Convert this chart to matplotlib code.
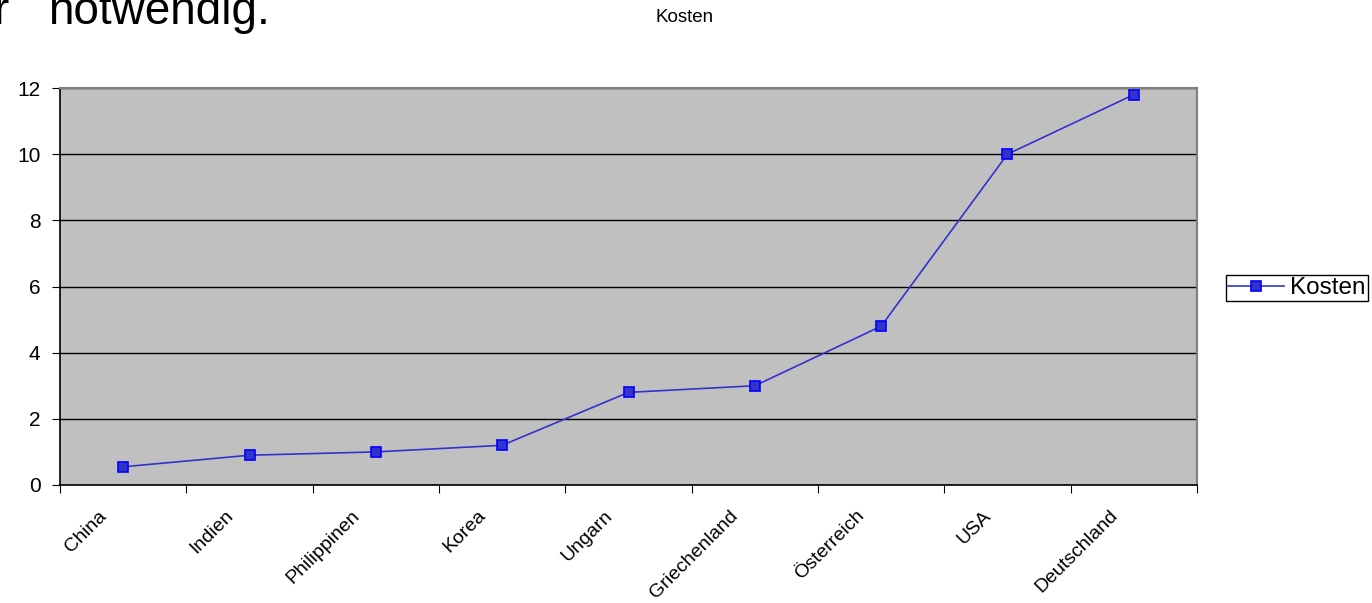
import matplotlib
matplotlib.use("Agg")
import matplotlib.pyplot as plt
import matplotlib.transforms as mtransforms
import numpy as np

plt.rcParams["font.family"] = ["Liberation Sans", "DejaVu Sans"]

# Daten
laender = ["China", "Indien", "Philippinen", "Korea", "Ungarn",
           "Griechenland", "Österreich", "USA", "Deutschland"]
kosten = [0.55, 0.9, 1.0, 1.2, 2.8, 3.0, 4.8, 10.0, 11.8]
y_ticks = [0, 2, 4, 6, 8, 10, 12]

W, H = 1372, 603
fig = plt.figure(figsize=(W / 100, H / 100), dpi=100)
ax = fig.add_axes([60 / W, 1 - 485 / H, (1197 - 60) / W, (485 - 88) / H])
ax.set_facecolor("#C0C0C0")

x = np.arange(len(laender))
line, = ax.plot(x, kosten, color="#3333CC", lw=1.2, marker="s", ms=7.5,
                mfc="#3333CC", mec="#0000FF", mew=1.2, label="Kosten", zorder=3)

ax.set_xlim(-0.5, len(laender) - 0.5)
ax.set_ylim(0, 12)
ax.set_yticks(y_ticks)
ax.set_yticklabels([str(v) for v in y_ticks], fontsize=15)
ax.yaxis.grid(True, color="black", lw=1)
ax.set_axisbelow(True)

# Kategorie-Grenzen als Ticks, Beschriftung in der Mitte
ax.set_xticks(np.arange(len(laender) + 1) - 0.5)
ax.set_xticklabels([])
ax.set_xticks(x, minor=True)
ax.set_xticklabels(laender, minor=True, rotation=45, ha="right",
                   rotation_mode="anchor", fontsize=14)
ax.tick_params(axis="x", which="minor", length=0, pad=16)
ax.tick_params(axis="x", which="major", length=6, direction="out", color="black")
ax.tick_params(axis="y", length=6, direction="out", color="black", pad=8)
shift = mtransforms.ScaledTranslation(-0.25, 0, fig.dpi_scale_trans)
for lab in ax.get_xticklabels(minor=True):
    lab.set_transform(lab.get_transform() + shift)

for s in ["left", "bottom"]:
    ax.spines[s].set_color("black")
    ax.spines[s].set_linewidth(1.2)
for s in ["top", "right"]:
    ax.spines[s].set_color("#808080")
    ax.spines[s].set_linewidth(1.5)

fig.text(685 / W, 1 - 18 / H, "Kosten", fontsize=13.5, ha="center", va="center")
fig.text(-6 / W, 1 - 24 / H, "r", fontsize=33, ha="left", va="baseline")
fig.text(48 / W, 1 - 24 / H, "notwendig.", fontsize=33, ha="left",
         va="baseline")

leg = fig.legend(handles=[line], loc="center left",
                 bbox_to_anchor=(1226 / W, 1 - 288 / H), fontsize=17.5,
                 frameon=True, fancybox=False, framealpha=1, handlelength=2.3,
                 borderpad=0.1, handletextpad=0.25, borderaxespad=0)
leg.get_frame().set_edgecolor("black")
leg.get_frame().set_linewidth(1)

fig.savefig("out.png", dpi=100)
